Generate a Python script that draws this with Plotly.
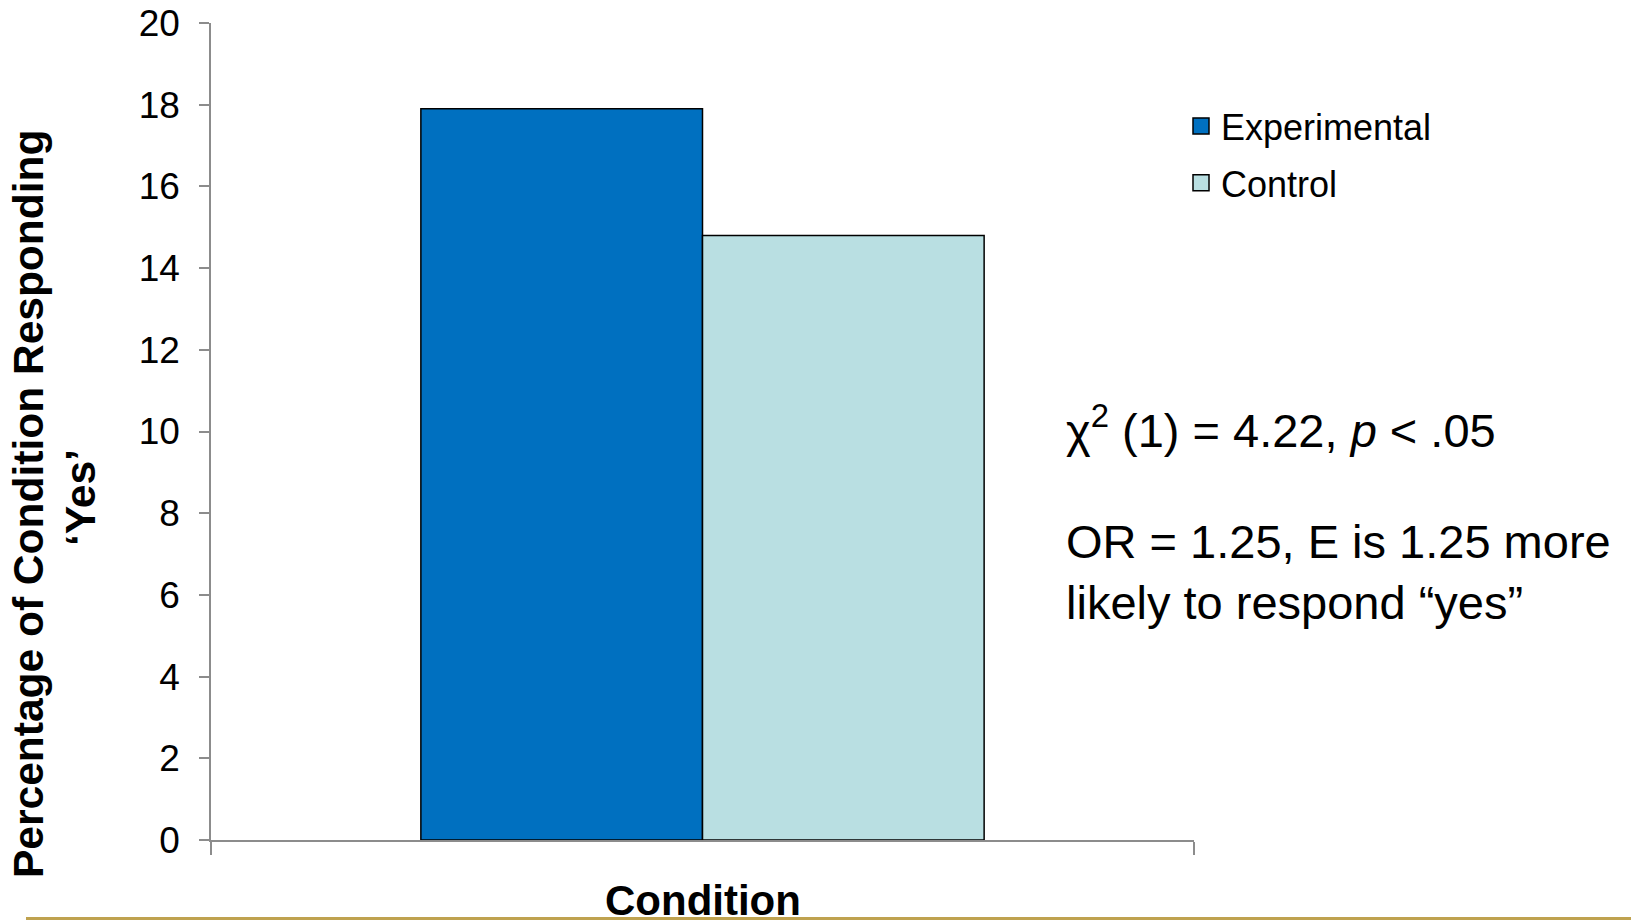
import plotly.graph_objects as go

# ---- data ----
categories = ["Condition"]
series_names = ["Experimental", "Control"]
experimental_values = [17.9]
control_values = [14.8]
series_colors = ["#0070C0", "#B9DFE2"]
y_tick_values = [0, 2, 4, 6, 8, 10, 12, 14, 16, 18, 20]

FONT = "Arial, 'Liberation Sans', sans-serif"
GRAY = "#8C8C8C"

W, H = 1631, 920
ML, MR, MT, MB = 211, 437, 23, 80
PW = W - ML - MR
PH = H - MT - MB


def px_x(px):
    return (px - ML) / PW


def px_y(py):
    return (H - MB - py) / PH


fig = go.Figure()
for i, (name, vals, col) in enumerate(zip(series_names, [experimental_values, control_values], series_colors)):
    fig.add_trace(go.Bar(
        x=categories, y=vals, name=name, showlegend=False,
        marker=dict(color=col, line=dict(color="#000000", width=1.5)),
    ))
    # legend entry with a larger square key
    fig.add_trace(go.Scatter(
        x=[None], y=[None], mode="markers", name=name, legendgroup=f"g{i}",
        marker=dict(symbol="square", size=16, color=col, line=dict(color="#000000", width=1.5)),
        hoverinfo="skip",
    ))

fig.update_layout(
    width=W, height=H,
    margin=dict(l=ML, r=MR, t=MT, b=MB, pad=0, autoexpand=False),
    paper_bgcolor="white", plot_bgcolor="white",
    barmode="group", bargap=0.427, bargroupgap=0,
    font=dict(family=FONT, color="#000000"),
    showlegend=True,
    legend=dict(
        x=px_x(1181), xanchor="left",
        y=px_y(96), yanchor="top",
        font=dict(size=36, family=FONT, color="#000000"),
        bgcolor="rgba(0,0,0,0)", borderwidth=0,
        tracegroupgap=7, itemsizing="trace",
    ),
    xaxis=dict(
        type="category", showticklabels=False, automargin=False,
        ticks="outside", tickson="boundaries", ticklen=13, tickcolor=GRAY, tickwidth=1.5,
        showline=True, linecolor=GRAY, linewidth=2,
        showgrid=False, zeroline=False,
    ),
    yaxis=dict(
        range=[0, 20], tickvals=y_tick_values, automargin=False,
        ticks="outside", ticklen=10, tickcolor=GRAY, tickwidth=1.5,
        showline=True, linecolor=GRAY, linewidth=1.5,
        showgrid=False, zeroline=False,
        tickfont=dict(size=37, family=FONT, color="#000000"),
        ticklabelstandoff=12,
    ),
)

# Axis titles
fig.add_annotation(
    text="<b>Condition</b>", x=0.5, y=px_y(900), xref="paper", yref="paper",
    xanchor="center", yanchor="middle", showarrow=False,
    font=dict(size=42, family=FONT, color="#000000"),
)
fig.add_annotation(
    text="<b>Percentage of Condition Responding</b>", x=px_x(28), y=px_y(504),
    xref="paper", yref="paper", xanchor="center", yanchor="middle",
    textangle=-90, showarrow=False,
    font=dict(size=42.5, family=FONT, color="#000000"),
)
fig.add_annotation(
    text="<b>\u2018Yes\u2019</b>", x=px_x(81), y=px_y(498),
    xref="paper", yref="paper", xanchor="center", yanchor="middle",
    textangle=-90, showarrow=False,
    font=dict(size=42.5, family=FONT, color="#000000"),
)

# Statistics text
fig.add_annotation(
    text="\u03c7<sup>2</sup> (1) = 4.22, <i>p</i> &lt; .05",
    x=px_x(1064), y=px_y(427), xref="paper", yref="paper",
    xanchor="left", yanchor="middle", showarrow=False, align="left",
    font=dict(size=47, family=FONT, color="#000000"),
)
fig.add_annotation(
    text="OR = 1.25, E is 1.25 more<br>likely to respond \u201cyes\u201d",
    x=px_x(1064), y=px_y(572), xref="paper", yref="paper",
    xanchor="left", yanchor="middle", showarrow=False, align="left",
    font=dict(size=47, family=FONT, color="#000000"),
)

# Gold slide rule at the bottom
fig.add_shape(
    type="rect", xref="paper", yref="paper",
    x0=px_x(26), x1=px_x(1640), y0=px_y(925), y1=px_y(917),
    fillcolor="#BFA24F", line=dict(width=0), layer="below",
)

fig.write_html(
    "out.html",
    config={"displayModeBar": False},
    post_script="document.body.style.margin='0px';document.body.style.overflow='hidden';",
)
